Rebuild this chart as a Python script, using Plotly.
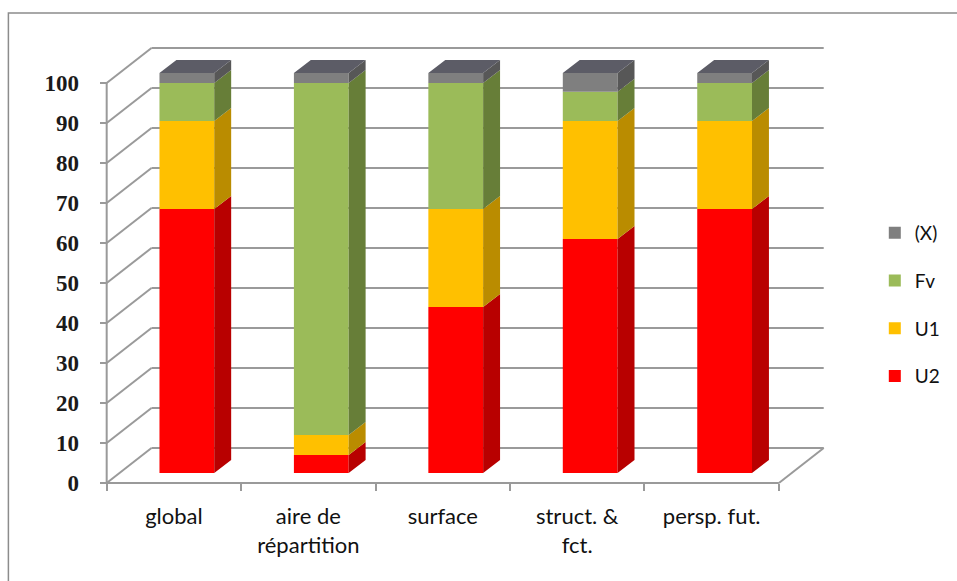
import plotly.graph_objects as go

# ---- data -------------------------------------------------------------
categories = ["global", "aire de<br>répartition", "surface", "struct. &<br>fct.", "persp. fut."]
u2 = [66, 4.5, 41.5, 58.5, 66]
u1 = [22, 5, 24.5, 29.5, 22]
fv = [9.5, 88, 31.5, 7.3, 9.5]
x_unknown = [2.5, 2.5, 2.5, 4.7, 2.5]

y_ticks = [0, 10, 20, 30, 40, 50, 60, 70, 80, 90, 100]

series_names = ["U2", "U1", "Fv", "(X)"]
series_values = [u2, u1, fv, x_unknown]
front_colors = ["#FF0000", "#FFC000", "#9BBB59", "#7F7F7F"]
side_colors = ["#B80000", "#BA8C00", "#677E38", "#575757"]
top_color = "#5C5C66"

# ---- pseudo-3D geometry (axis units) ------------------------------------
W_PX, H_PX = 957, 581
M_L, M_R, M_T, M_B = 104, 127, 40, 96
PX_PER_CAT = 135.0
PX_PER_UNIT = 4.0
X_MIN = -0.52
X_MAX = X_MIN + (W_PX - M_L - M_R) / PX_PER_CAT
Y_MIN = -0.5
Y_MAX = Y_MIN + (H_PX - M_T - M_B) / PX_PER_UNIT

WALL_DX = 45 / PX_PER_CAT      # depth of floor / side wall
WALL_DY = 35 / PX_PER_UNIT
BAR_SHIFT_X = 13 / PX_PER_CAT  # bar front face set back into the box
BAR_SHIFT_Y = 10 / PX_PER_UNIT
BAR_DX = 17 / PX_PER_CAT       # bar depth
BAR_DY = 13 / PX_PER_UNIT
BAR_W = 55 / PX_PER_CAT

positions = list(range(len(categories)))
n = len(categories)
left_edge = -0.5
right_edge = n - 0.5

fig = go.Figure()

# ---- stacked columns: front faces, sides, top -----------------------------
cum = [0.0] * n
for k, (name, vals, fcol, scol) in enumerate(zip(series_names, series_values, front_colors, side_colors)):
    bases = [c + BAR_SHIFT_Y for c in cum]
    fig.add_trace(go.Bar(
        x=positions, y=vals, base=bases, name=name, legendgroup=name,
        legendrank=100 - k,
        offset=BAR_SHIFT_X - BAR_W / 2, width=BAR_W,
        marker=dict(color=fcol, line=dict(width=0)),
    ))
    sx, sy = [], []
    for i, (b, v) in enumerate(zip(bases, vals)):
        xr = i + BAR_SHIFT_X + BAR_W / 2
        sx += [xr, xr, xr + BAR_DX, xr + BAR_DX, xr, None]
        sy += [b, b + v, b + v + BAR_DY, b + BAR_DY, b, None]
    fig.add_trace(go.Scatter(
        x=sx, y=sy, mode="lines", fill="toself", fillcolor=scol,
        line=dict(width=0, color=scol), showlegend=False, hoverinfo="skip",
    ))
    cum = [c + v for c, v in zip(cum, vals)]

tx, ty = [], []
for i, total in enumerate(cum):
    xl = i + BAR_SHIFT_X - BAR_W / 2
    xr = xl + BAR_W
    t = total + BAR_SHIFT_Y
    tx += [xl, xr, xr + BAR_DX, xl + BAR_DX, xl, None]
    ty += [t, t, t + BAR_DY, t + BAR_DY, t, None]
fig.add_trace(go.Scatter(
    x=tx, y=ty, mode="lines", fill="toself", fillcolor=top_color,
    line=dict(width=0, color=top_color), showlegend=False, hoverinfo="skip",
))

# ---- box: back wall grid, side wall, floor ---------------------------------
grid = dict(color="#9A9A9A", width=2)
shapes = []
for v in y_ticks:
    shapes.append(dict(type="line", xref="x", yref="y", layer="below",
                       x0=left_edge, y0=v, x1=left_edge + WALL_DX, y1=v + WALL_DY, line=grid))
    shapes.append(dict(type="line", xref="x", yref="y", layer="below",
                       x0=left_edge + WALL_DX, y0=v + WALL_DY,
                       x1=right_edge + WALL_DX, y1=v + WALL_DY, line=grid))
shapes.append(dict(type="line", xref="x", yref="y", layer="below",
                   x0=right_edge, y0=0, x1=right_edge + WALL_DX, y1=WALL_DY, line=grid))
shapes.append(dict(type="line", xref="x", yref="y", layer="below",
                   x0=left_edge, y0=0, x1=right_edge, y1=0, line=grid))
shapes.append(dict(type="line", xref="x", yref="y", layer="below",
                   x0=left_edge, y0=0, x1=left_edge, y1=y_ticks[-1], line=grid))

# outer chart frame
def px_to_paper_x(px):
    return (px - M_L) / (W_PX - M_L - M_R)

def px_to_paper_y(py):
    return (H_PX - M_B - py) / (H_PX - M_T - M_B)

shapes.append(dict(type="rect", xref="paper", yref="paper",
                   x0=px_to_paper_x(8), y0=px_to_paper_y(600),
                   x1=px_to_paper_x(1000), y1=px_to_paper_y(13),
                   line=dict(color="#8C8C8C", width=1.5)))

fig.update_layout(
    width=W_PX, height=H_PX,
    margin=dict(l=M_L, r=M_R, t=M_T, b=M_B),
    paper_bgcolor="white", plot_bgcolor="white",
    barmode="overlay",
    shapes=shapes,
    showlegend=True,
    legend=dict(
        x=px_to_paper_x(878), y=px_to_paper_y(214), xanchor="left", yanchor="top",
        traceorder="grouped", tracegroupgap=20,
        font=dict(family="Lato", size=19, color="#111"),
        itemwidth=30,
        bgcolor="rgba(0,0,0,0)",
    ),
    xaxis=dict(
        range=[X_MIN, X_MAX], showgrid=False, zeroline=False, showline=False,
        tickvals=positions, ticktext=categories, ticks="",
        tickfont=dict(family="Lato", size=22, color="#111"),
        anchor="free", position=(0 - Y_MIN) / (Y_MAX - Y_MIN),
        ticklabelstandoff=18,
        minor=dict(tickvals=[p - 0.5 for p in positions] + [right_edge],
                   ticks="outside", ticklen=7, tickcolor="#9A9A9A", tickwidth=2,
                   showgrid=False),
    ),
    yaxis=dict(
        range=[Y_MIN, Y_MAX], showgrid=False, zeroline=False, showline=False,
        tickvals=y_ticks, ticktext=[str(v) for v in y_ticks],
        ticks="outside", ticklen=7, tickcolor="#9A9A9A", tickwidth=2,
        tickfont=dict(family="Liberation Serif", size=23, color="#1a1a1a", weight="bold"),
        anchor="free", position=(left_edge - X_MIN) / (X_MAX - X_MIN),
        ticklabelstandoff=16,
    ),
)

fig.write_html("out.html")
